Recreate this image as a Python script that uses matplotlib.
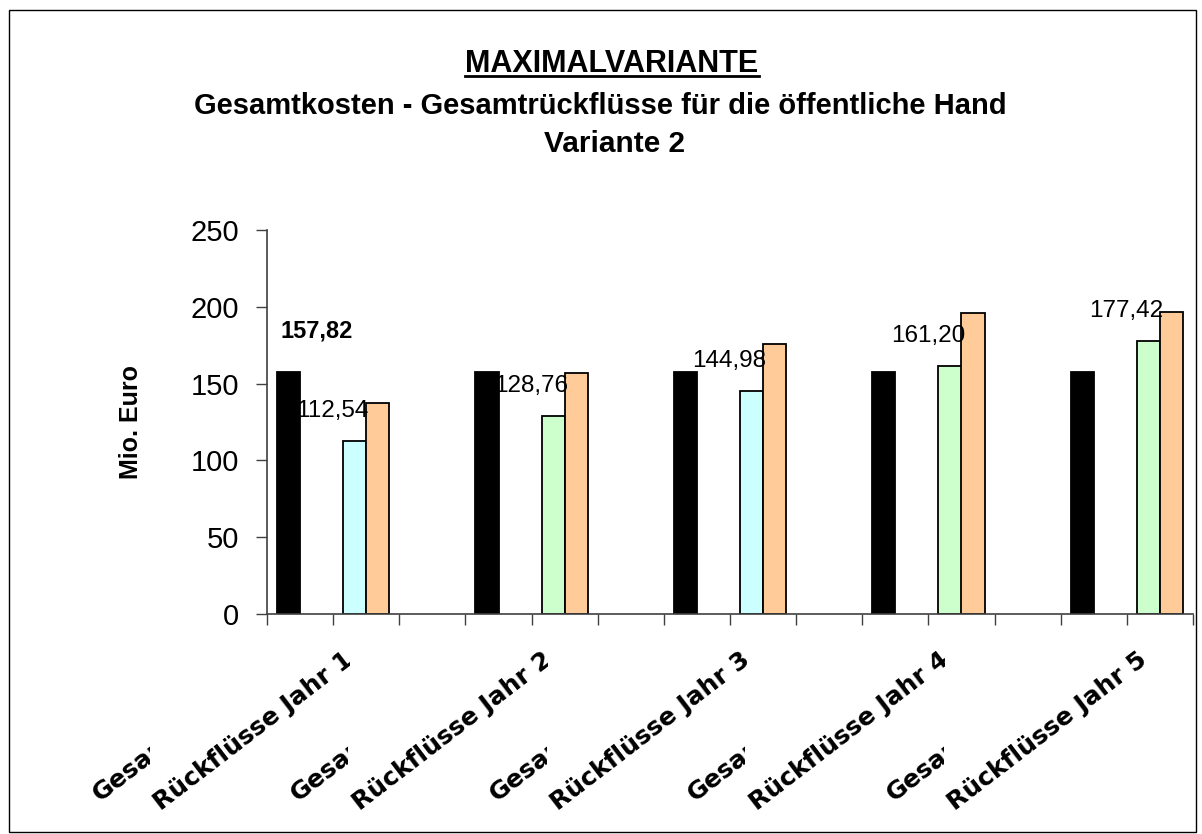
import numpy as np
import matplotlib
matplotlib.use("Agg")
import matplotlib.pyplot as plt
from matplotlib.transforms import Bbox, TransformedBbox, blended_transform_factory
from matplotlib.patches import Rectangle
from matplotlib.lines import Line2D

plt.rcParams['font.family'] = ['Liberation Sans', 'DejaVu Sans']

# 14 category slots, every third one is an empty spacer
categories = ["Gesamtkosten", "Rückflüsse Jahr 1", "",
              "Gesamtkosten", "Rückflüsse Jahr 2", "",
              "Gesamtkosten", "Rückflüsse Jahr 3", "",
              "Gesamtkosten", "Rückflüsse Jahr 4", "",
              "Gesamtkosten", "Rückflüsse Jahr 5"]
nan = np.nan
kosten_rueckfluss = [157.82, 112.54, nan, 157.82, 128.76, nan, 157.82, 144.98, nan,
                     157.82, 161.20, nan, 157.82, 177.42]
rueckfluss_2 = [nan, 137.1, nan, nan, 156.9, nan, nan, 176.0, nan,
                nan, 196.1, nan, nan, 196.9]
farben = ["black", "#CCFFFF", "white", "black", "#CCFFCC", "white", "black", "#CCFFFF", "white",
          "black", "#CCFFCC", "white", "black", "#CCFFCC"]
werte_text = ["157,82", "112,54", "", "", "128,76", "", "", "144,98", "",
              "", "161,20", "", "", "177,42"]

fig = plt.figure(figsize=(12.02, 8.34), dpi=100)
ax = fig.add_axes([267 / 1202, 1 - 614 / 834, (1193 - 267) / 1202, (614 - 230) / 834])

x = np.arange(len(categories))
a = np.array(kosten_rueckfluss)
b = np.array(rueckfluss_2)
w = 0.348

ma = ~np.isnan(a)
ax.bar(x[ma] - w / 2, a[ma], w, color=np.array(farben)[ma], edgecolor="black", linewidth=1.3)
mb = ~np.isnan(b)
ax.bar(x[mb] + w / 2, b[mb], w, color="#FFCC99", edgecolor="black", linewidth=1.3)

for i, txt in enumerate(werte_text):
    if not txt:
        continue
    if i == 0:
        ax.annotate(txt, xy=(x[i] - w / 2, a[i]), xytext=(-8, 41), textcoords="offset pixels",
                    ha="left", va="center", fontsize=17, fontweight="bold")
    else:
        ax.annotate(txt, xy=(x[i] - w / 2, a[i]), xytext=(-22, 30), textcoords="offset pixels",
                    ha="center", va="center", fontsize=17.5)

ax.set_xlim(-0.5, len(categories) - 0.5)
ax.set_ylim(0, 250)
ax.set_yticks(np.arange(0, 251, 50))
ax.set_xticks(np.arange(-0.5, len(categories), 1))
ax.set_xticklabels([])
ax.tick_params(axis="y", labelsize=21, length=8, width=1, pad=12, color="#404040")
ax.tick_params(axis="x", length=8, width=1, color="#404040")
for s in ["top", "right"]:
    ax.spines[s].set_visible(False)
for s in ["left", "bottom"]:
    ax.spines[s].set_color("#404040")
    ax.spines[s].set_linewidth(1.2)

ax.set_ylabel("Mio. Euro", fontsize=18, fontweight="bold", labelpad=0)
ax.yaxis.set_label_coords(-124 / 926, 0.5)

# rotated category labels, clipped like in the original export
trans = blended_transform_factory(ax.transData, ax.transAxes)
for i, lab in enumerate(categories):
    if not lab:
        continue
    if lab.startswith("Gesamt"):
        x0, xc, y0 = i - 3.03, i - 2.27, -0.49
    else:
        x0, xc, y0 = i - 3.10, i - 0.245, -0.512
        if i == len(categories) - 1:
            xc = i + 1
    t = ax.text(x0, y0, lab, transform=trans, rotation=37.5, rotation_mode="anchor",
                ha="left", va="baseline", fontsize=18, fontweight="bold",
                family=["DejaVu Sans"], clip_on=True)
    t.set_clip_box(TransformedBbox(Bbox([[x0 - 5, -3], [xc, 1]]), trans))

# titles
fig.text(612 / 1202, 1 - 72 / 834, "MAXIMALVARIANTE", ha="center", va="baseline",
         fontsize=22, fontweight="bold")
fig.text(600 / 1202, 1 - 114 / 834, "Gesamtkosten - Gesamtrückflüsse für die öffentliche Hand",
         ha="center", va="baseline", fontsize=21, fontweight="bold")
fig.text(615 / 1202, 1 - 152 / 834, "Variante 2", ha="center", va="baseline",
         fontsize=21.5, fontweight="bold")

fig.canvas.draw()
t1 = fig.texts[0]
bb = t1.get_window_extent().transformed(fig.transFigure.inverted())
fig.add_artist(Line2D([bb.x0, bb.x1], [1 - 76 / 834] * 2, transform=fig.transFigure,
                      color="black", linewidth=2))

fig.add_artist(Rectangle((9 / 1202, 2 / 834), (1196 - 9) / 1202, (832 - 10) / 834,
                         transform=fig.transFigure, fill=False, edgecolor="black", linewidth=1))

fig.savefig("out.png", dpi=100)
